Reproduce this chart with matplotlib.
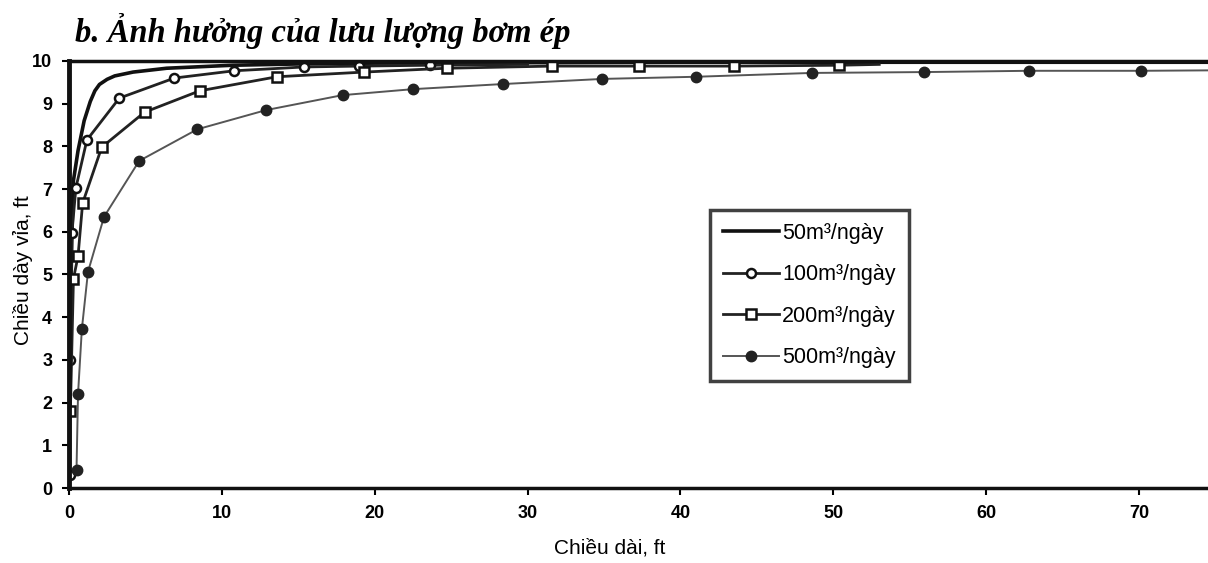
import matplotlib
matplotlib.use('Agg')
import matplotlib.pyplot as plt

# Chiều dài (ft) / chiều dày vỉa (ft) cho từng lưu lượng bơm ép
x50 = [0.02, 0.05, 0.1, 0.2, 0.3, 0.6, 1.0, 1.4, 1.7, 2.0, 2.5, 3.0, 4.2, 6.4, 10.7, 15, 20, 30, 40, 50, 60, 74.5]
y50 = [0.0, 2.0, 4.0, 6.0, 7.2, 7.9, 8.6, 9.05, 9.3, 9.45, 9.57, 9.65, 9.74, 9.83, 9.9, 9.93, 9.95, 9.96, 9.97, 9.97, 9.97, 9.97]

x100 = [0.05, 0.1, 0.2, 0.46, 1.18, 3.3, 6.9, 10.8, 15.4, 19.0, 23.6, 30.0]
y100 = [0.3, 3.0, 5.97, 7.03, 8.15, 9.13, 9.6, 9.77, 9.86, 9.88, 9.9, 9.92]

x200 = [0.1, 0.3, 0.6, 0.9, 2.15, 4.95, 8.55, 13.6, 19.3, 24.7, 31.6, 37.3, 43.5, 50.4, 53.0]
y200 = [1.8, 4.9, 5.43, 6.67, 7.98, 8.8, 9.3, 9.63, 9.74, 9.83, 9.88, 9.88, 9.88, 9.9, 9.92]

x500 = [0.5, 0.6, 0.85, 1.25, 2.3, 4.6, 8.4, 12.9, 17.9, 22.5, 28.4, 34.9, 41.0, 48.6, 55.9, 62.8, 70.1, 74.5]
y500 = [0.42, 2.2, 3.72, 5.06, 6.35, 7.66, 8.4, 8.85, 9.2, 9.34, 9.46, 9.58, 9.63, 9.72, 9.74, 9.77, 9.77, 9.78]

labels = ['50m³/ngày', '100m³/ngày', '200m³/ngày', '500m³/ngày']
xticks = [0, 10, 20, 30, 40, 50, 60, 70]
yticks = list(range(0, 11))

plt.rcParams['font.family'] = ['Liberation Sans', 'DejaVu Sans']

fig = plt.figure(figsize=(12.08, 5.63), dpi=100)
ax = fig.add_axes([0.057, 0.1332, 0.943, 0.7585])

ax.plot(x50, y50, color='#111111', lw=2.6, label=labels[0])
ax.plot(x100, y100, color='#222222', lw=2.0, marker='o', ms=6.5, mfc='white', mec='#111111',
        mew=1.8, markevery=slice(0, -1), label=labels[1])
ax.plot(x200, y200, color='#222222', lw=2.0, marker='s', ms=6.5, mfc='white', mec='#111111',
        mew=1.8, markevery=slice(0, -1), label=labels[2])
ax.plot(x500, y500, color='#555555', lw=1.4, marker='o', ms=7.5, mfc='#222222', mec='#222222',
        markevery=slice(0, -1), label=labels[3])

ax.set_xlim(0, 74.5)
ax.set_ylim(0, 10)
ax.set_xticks(xticks)
ax.set_yticks(yticks)
ax.tick_params(axis='both', direction='out', length=5, width=1.5, labelsize=13, pad=7)
for t in ax.get_xticklabels() + ax.get_yticklabels():
    t.set_fontweight('bold')

for s in ['left', 'bottom', 'top']:
    ax.spines[s].set_linewidth(2.5)
    ax.spines[s].set_color('#111111')
ax.spines['left'].set_linewidth(3.5)
ax.spines['right'].set_visible(False)

leg = ax.legend(loc='upper left', bbox_to_anchor=(0.563, 0.651), fontsize=15.5,
                handlelength=2.6, handletextpad=0.15, labelspacing=0.95,
                borderpad=0.6, frameon=True, fancybox=False, borderaxespad=0)
leg.get_frame().set_edgecolor('#111111')
leg.get_frame().set_linewidth(2.5)

fig.text(0.505, 0.027, 'Chiều dài, ft', ha='center', va='center', fontsize=15)
fig.text(0.019, 0.52, 'Chiều dày vỉa, ft', ha='center', va='center', rotation=90, fontsize=15)
fig.text(0.062, 0.945, 'b. Ảnh hưởng của lưu lượng bơm ép', ha='left', va='center',
         fontsize=23.5, fontweight='bold', fontstyle='italic', family=['Liberation Serif', 'DejaVu Serif'])

fig.savefig('out.png', dpi=100)
